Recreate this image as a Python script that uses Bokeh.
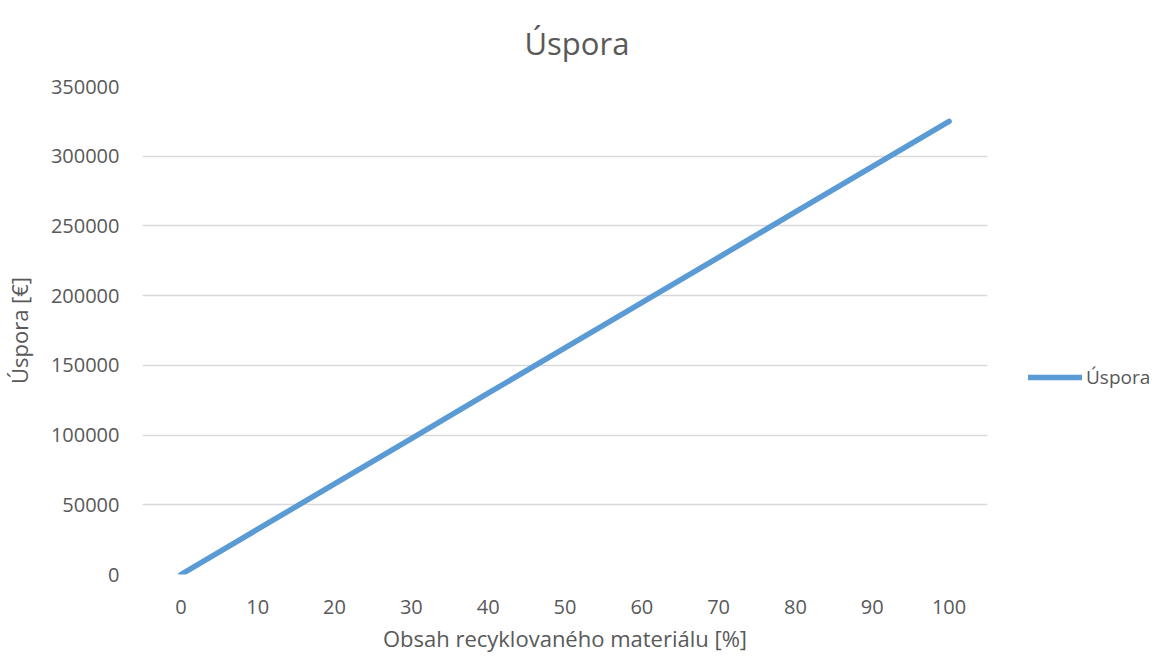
from bokeh.plotting import figure
from bokeh.models import Legend, LegendItem, FixedTicker, Range1d, NumeralTickFormatter
from bokeh.embed import file_html
from bokeh.resources import INLINE

# data
x_pct = [0, 10, 20, 30, 40, 50, 60, 70, 80, 90, 100]
uspora = [0, 32500, 65000, 97500, 130000, 162500, 195000, 227500, 260000, 292500, 325000]
y_ticks = [0, 50000, 100000, 150000, 200000, 250000, 300000, 350000]

FONT = "Open Sans"
GREY = "#595959"
BLUE = "#5B9BD5"

p = figure(frame_width=845, frame_height=488, output_backend="svg", toolbar_location=None,
           x_range=Range1d(-5, 105), y_range=Range1d(0, 350000),
           min_border_left=134, min_border_right=161, min_border_top=86, min_border_bottom=70)
p.outline_line_color = None
p.background_fill_color = "white"
p.border_fill_color = "white"

r = p.line(x_pct, uspora, line_color=BLUE, line_width=5.5, line_cap="round", line_join="round")

p.title.text = "Úspora"
p.title.text_font = FONT
p.title.text_font_size = "31px"
p.title.text_font_style = "normal"
p.title.text_color = GREY
p.title.align = "left"
p.title.offset = 382
p.title.vertical_align = "top"
p.title.standoff = 42

p.xaxis.ticker = FixedTicker(ticks=x_pct)
p.yaxis.ticker = FixedTicker(ticks=y_ticks)
p.yaxis.formatter = NumeralTickFormatter(format="0")
for ax in (p.xaxis[0], p.yaxis[0]):
    ax.axis_line_color = None
    ax.major_tick_line_color = None
    ax.minor_tick_line_color = None
    ax.major_tick_out = 0
    ax.major_tick_in = 0
    ax.minor_tick_out = 0
    ax.minor_tick_in = 0
    ax.major_label_text_font = FONT
    ax.major_label_text_font_size = "20px"
    ax.major_label_text_color = GREY
    ax.axis_label_text_font = FONT
    ax.axis_label_text_font_size = "22px"
    ax.axis_label_text_font_style = "normal"
    ax.axis_label_text_color = GREY

p.xaxis.axis_label = "Obsah recyklovaného materiálu [%]"
p.yaxis.axis_label = "Úspora [€]"
p.xaxis.major_label_standoff = 25
p.yaxis.major_label_standoff = 23
p.xaxis.axis_label_standoff = 6
p.yaxis.axis_label_standoff = 14

p.xgrid.grid_line_color = None
p.ygrid.grid_line_color = "#D9D9D9"
p.ygrid.grid_line_width = 1.5

legend = Legend(items=[LegendItem(label="Úspora", renderers=[r])],
                location=(41, 184), orientation="vertical")
legend.border_line_color = None
legend.background_fill_alpha = 0
legend.glyph_width = 54
legend.glyph_height = 20
legend.label_standoff = 4
legend.padding = 0
legend.margin = 0
legend.label_text_font = FONT
legend.label_text_font_size = "19px"
legend.label_text_color = GREY
p.add_layout(legend, "right")

open("out.html", "w").write(file_html(p, INLINE))
